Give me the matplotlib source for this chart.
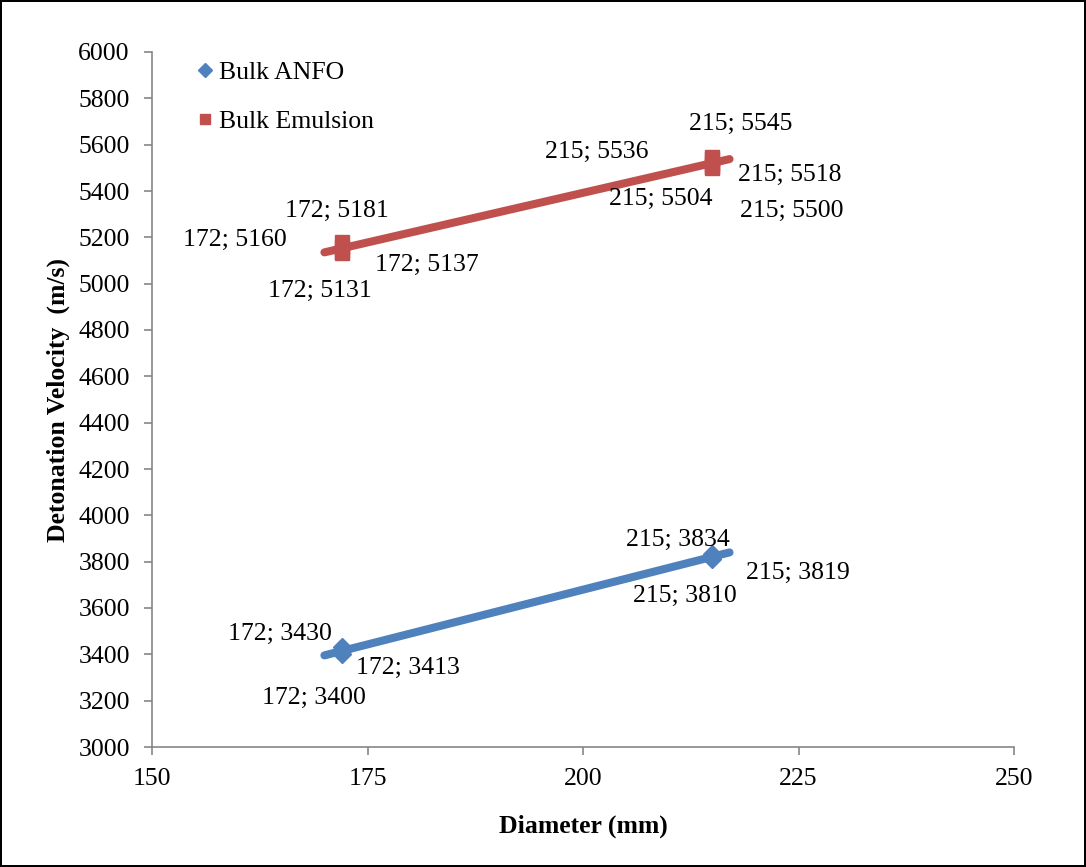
import numpy as np
import matplotlib
matplotlib.use("Agg")
import matplotlib.pyplot as plt

plt.rcParams['font.family'] = ['Liberation Serif', 'DejaVu Serif']

# Data
anfo_x = [172, 172, 172, 215, 215, 215]
anfo_y = [3430, 3413, 3400, 3834, 3819, 3810]
emul_x = [172, 172, 172, 172, 215, 215, 215, 215, 215]
emul_y = [5181, 5160, 5137, 5131, 5545, 5536, 5518, 5504, 5500]
series_names = ["Bulk ANFO", "Bulk Emulsion"]
x_ticks = [150, 175, 200, 225, 250]
y_ticks = list(range(3000, 6001, 200))

# label offsets (pixels) relative to each point
anfo_off = [(-62, -17), (66, 17), (-28, 47), (-34, -17), (86, 16), (-27, 39)]
emul_off = [(-5, -37), (-107, -8), (85, 17), (-22, 43),
            (28, -39), (-116, -11), (77, 12), (-52, 36), (79, 48)]

blue = "#4F81BD"
red = "#C0504D"
gray = "#868686"

fig = plt.figure(figsize=(10.86, 8.67), dpi=100)
fig.patch.set_edgecolor("black")
fig.patch.set_linewidth(1.5)
ax = fig.add_axes([152/1086, 1-747/867, (1014-152)/1086, (747-52)/867])

fs = 18.5

def draw(xs, ys, color, marker, msize, offs, label):
    ax.plot(xs, ys, linestyle="none", marker=marker, color=color,
            markersize=msize, label=label, zorder=3)
    c = np.polyfit(xs, ys, 1)
    xt = np.array([min(xs) - 2, max(xs) + 2])
    ax.plot(xt, np.polyval(c, xt), color=color, lw=5.8,
            solid_capstyle="round", zorder=2)
    for x, y, (dx, dy) in zip(xs, ys, offs):
        yl = np.polyval(c, x)
        ax.annotate(f"{x}; {y}", (x, yl), xytext=(dx * 0.72, -dy * 0.72),
                    textcoords="offset points", ha="center", va="center",
                    fontsize=fs, zorder=4)

draw(anfo_x, anfo_y, blue, "D", 9, anfo_off, series_names[0])
draw(emul_x, emul_y, red, "s", 10, emul_off, series_names[1])

ax.set_xlim(150, 250)
ax.set_ylim(3000, 6000)
ax.set_xticks(x_ticks)
ax.set_yticks(y_ticks)
ax.tick_params(axis="both", direction="out", length=6, color=gray,
               labelsize=fs, width=1.2)
ax.tick_params(axis="x", pad=9)
ax.tick_params(axis="y", pad=10)
for s in ["top", "right"]:
    ax.spines[s].set_visible(False)
for s in ["left", "bottom"]:
    ax.spines[s].set_color(gray)
    ax.spines[s].set_linewidth(1.2)

ax.set_xlabel("Diameter (mm)", fontsize=fs, fontweight="bold", labelpad=18)
ax.set_ylabel("Detonation Velocity  (m/s)", fontsize=fs, fontweight="bold",
              labelpad=6)

leg = ax.legend(loc="upper left", bbox_to_anchor=(0.027, 1.02), frameon=False,
                fontsize=fs, markerscale=0.75, handlelength=0.5,
                handletextpad=0.3, labelspacing=1.0)

fig.savefig("out.png", dpi=100)
